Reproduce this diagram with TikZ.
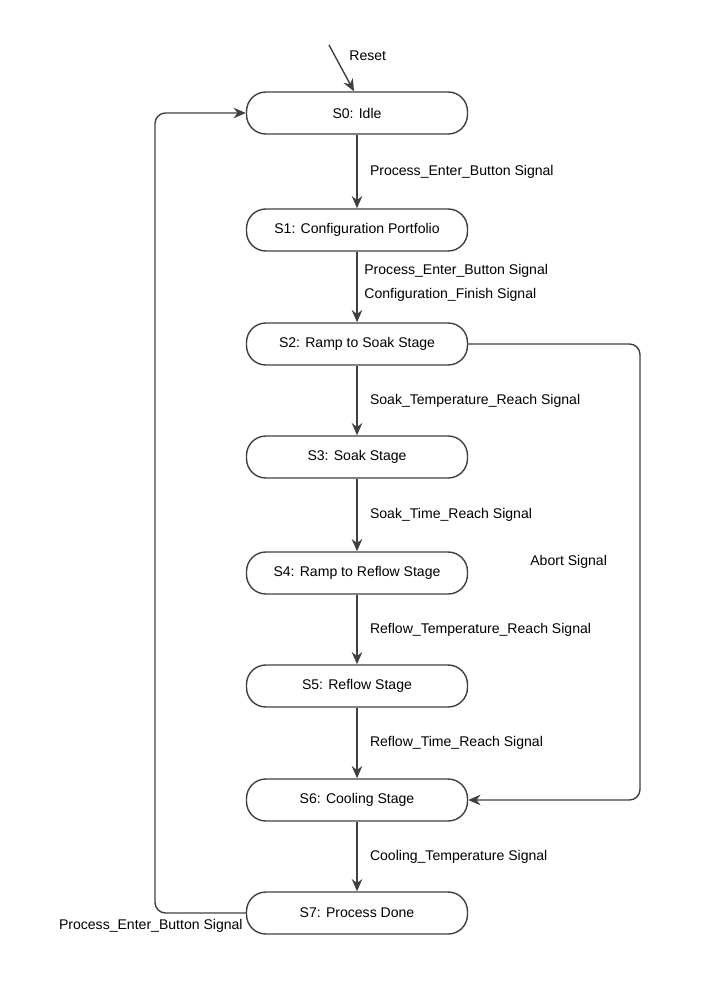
\documentclass[tikz,border=0pt]{standalone}
\usepackage{fontspec}
\setmainfont{Liberation Sans}
\usetikzlibrary{arrows.meta}
\begin{document}
\begin{tikzpicture}[x=0.02cm, y=-0.02cm, >={Stealth[length=7pt,width=6pt]},
state/.style={draw=black!75, thick, rounded corners=11pt, minimum width=4.42cm, minimum height=0.84cm, inner sep=0, font=\fontsize{8}{9}\selectfont},
trans/.style={->, thick, draw=black!75},
felirat/.style={anchor=west, inner sep=0, font=\fontsize{8}{9}\selectfont}]
% SIZE OF THE PICTURE
\useasboundingbox (0,0) rectangle (709,1000);
%%%%%%%%% STATES %%%%%%%%%
\node[state] (S0) at (357,113) {S0: Idle};
\node[state] (S1) at (357,230) {S1: Configuration Portfolio};
\node[state] (S2) at (357,344) {S2: Ramp to Soak Stage};
\node[state] (S3) at (357,457) {S3: Soak Stage};
\node[state] (S4) at (357,573) {S4: Ramp to Reflow Stage};
\node[state] (S5) at (357,686) {S5: Reflow Stage};
\node[state] (S6) at (357,800) {S6: Cooling Stage};
\node[state] (S7) at (357,913) {S7: Process Done};
%%%%%%%%% TRANSITIONS %%%%%%%%%
\coordinate (R) at (329,45);
\draw[trans] (R)--(S0.north west -| 354,0) ;
\node[felirat] at (349,56) {Reset};
\draw[trans] (S0)--(S1) node[felirat, midway, xshift=7pt] {Process\_Enter\_Button Signal};
\draw[trans] (S1)--(S2);
\node[felirat] at (364,271) {Process\_Enter\_Button Signal};
\node[felirat] at (364,295) {Configuration\_Finish Signal};
\draw[trans] (S2)--(S3) node[felirat, midway, xshift=7pt] {Soak\_Temperature\_Reach Signal};
\draw[trans] (S3)--(S4) node[felirat, midway, xshift=7pt] {Soak\_Time\_Reach Signal};
\draw[trans] (S4)--(S5) node[felirat, midway, xshift=7pt] {Reflow\_Temperature\_Reach Signal};
\draw[trans] (S5)--(S6) node[felirat, midway, xshift=7pt] {Reflow\_Time\_Reach Signal};
\draw[trans] (S6)--(S7) node[felirat, midway, xshift=7pt] {Cooling\_Temperature Signal};
% abort and loop back
\draw[trans, rounded corners=6pt] (S2.east)--(640,344)--(640,800)--(S6.east);
\node[felirat] at (530,562) {Abort Signal};
\draw[trans, rounded corners=6pt] (S7.west)--(155,913)--(155,113)--(S0.west);
\node[felirat, anchor=east] at (243,926) {Process\_Enter\_Button Signal};
\end{tikzpicture}
\end{document}
